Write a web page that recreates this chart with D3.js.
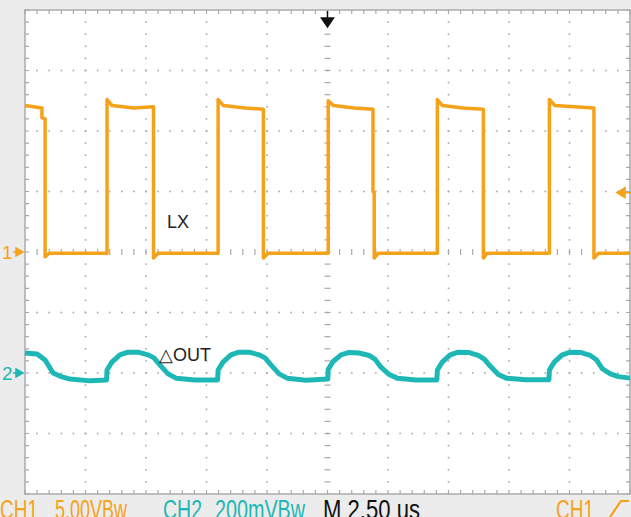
<!DOCTYPE html>
<html>
<head>
<meta charset="utf-8">
<script src="https://cdn.jsdelivr.net/npm/d3@7"></script>
<style>
  body { margin: 0; background: #ececec; }
  text { font-family: "Liberation Sans", Arial, sans-serif; }
</style>
</head>
<body>
<div id="scope"></div>
<script>
// Scope settings
var timePerDivUs = 2.5;
var ch1VoltsPerDiv = 5;
var ch2mVPerDiv = 200;
var ch1GroundDiv = 0;
var ch2GroundDiv = -2;
var triggerLevelV = 4.9;
var triggerTimeUs = 0;

// CH1 (LX switch node), [time us from trigger, volts]
var lxTrace = [
    [-12.50, 12.1], [-11.80, 11.9], [-11.80, 11.1], [-11.67, 11.0], [-11.67, -0.4], [-11.50, -0.1],
    [-9.11, -0.1], [-9.11, 12.6], [-8.90, 12.1], [-8.00, 11.9], [-7.19, 12.0], [-7.19, -0.5], [-7.00, -0.1],
    [-4.52, -0.1], [-4.52, 12.6], [-4.30, 12.1], [-3.40, 11.9], [-2.65, 11.8], [-2.65, -0.5], [-2.45, -0.1],
    [0.03, -0.1], [0.03, 12.5], [0.25, 12.1], [1.10, 11.9], [1.88, 11.8], [1.88, 5.0], [1.93, 4.9], [1.93, -0.5], [2.10, -0.1],
    [4.54, -0.1], [4.54, 12.6], [4.75, 12.1], [5.60, 11.9], [6.44, 11.8], [6.44, -0.5], [6.60, -0.1],
    [9.17, -0.1], [9.17, 12.6], [9.40, 12.1], [10.20, 12.0], [11.01, 11.9], [11.01, -0.5], [11.20, -0.1],
    [12.50, -0.1]
];

// CH2 (output ripple), [time us from trigger, millivolts]
var outTrace = [
    [-12.50, 66], [-12.00, 63], [-11.67, 43], [-11.34, 0], [-10.97, -13], [-10.64, -20], [-9.81, -26], [-9.13, -23],
    [-9.11, 10], [-8.91, 36], [-8.58, 60], [-8.25, 69], [-7.83, 69], [-7.42, 60], [-7.17, 50], [-6.92, 26], [-6.59, -3], [-6.26, -17], [-5.48, -23], [-4.54, -23],
    [-4.52, 10], [-4.32, 36], [-3.99, 60], [-3.66, 69], [-3.24, 69], [-2.83, 60], [-2.58, 50], [-2.33, 26], [-2.00, -3], [-1.67, -17], [-0.89, -24], [0.01, -20],
    [0.03, 12], [0.23, 38], [0.56, 60], [0.89, 68], [1.31, 66], [1.72, 58], [1.97, 45], [2.20, 20], [2.55, -5], [2.88, -17], [3.66, -23], [4.52, -23],
    [4.54, 10], [4.74, 36], [5.07, 60], [5.40, 69], [5.82, 68], [6.23, 58], [6.48, 46], [6.73, 22], [7.06, -5], [7.39, -17], [8.17, -22], [9.15, -22],
    [9.17, 10], [9.37, 36], [9.70, 60], [10.03, 69], [10.45, 68], [10.86, 58], [11.11, 44], [11.36, 14], [11.69, -3], [12.02, -12], [12.50, -17]
];

var traceLabels = ["LX", "\u25B3OUT"];
var statusTexts = ["CH1", "5.00VBw", "CH2", "200mVBw", "M 2.50 us", "CH1"];

var orange = "#f5a21b",
    teal = "#1db7b5";

var width = 631,
    height = 517;

var svg = d3.select("#scope").append("svg")
    .attr("width", width)
    .attr("height", height);

svg.append("rect")
    .attr("width", width)
    .attr("height", height)
    .attr("fill", "#ececec");

// 10 x 8 divisions
var x = d3.scaleLinear()
    .domain([-5 * timePerDivUs, 5 * timePerDivUs])
    .range([25, 630]);

var yDiv = d3.scaleLinear()
    .domain([-4, 4])
    .range([494, 10]);

function y1(v) { return yDiv(ch1GroundDiv + v / ch1VoltsPerDiv); }
function y2(mv) { return yDiv(ch2GroundDiv + mv / ch2mVPerDiv); }

svg.append("rect")
    .attr("x", x.range()[0])
    .attr("y", yDiv.range()[1])
    .attr("width", x.range()[1] - x.range()[0])
    .attr("height", yDiv.range()[0] - yDiv.range()[1])
    .attr("fill", "white")
    .attr("stroke", "#bdbdbd")
    .attr("stroke-width", 2);

var grid = svg.append("g").attr("fill", "#a9a9a9").attr("stroke", "#a9a9a9");

var minorT = d3.range(-12.5, 12.5001, timePerDivUs / 5),
    minorD = d3.range(-4, 4.0001, 0.2),
    majorT = d3.range(-10, 10.001, timePerDivUs).filter(function(t) { return Math.abs(t) > 0.01; }),
    majorD = [-3, -2, -1, 1, 2, 3];

// dotted division lines
majorT.forEach(function(t) {
    grid.selectAll(null)
        .data(minorD.slice(1, -1))
        .enter().append("rect")
        .attr("x", x(t) - 0.8).attr("y", function(d) { return yDiv(d) - 0.8; })
        .attr("width", 1.6).attr("height", 1.6).attr("stroke", "none");
});
majorD.forEach(function(dv) {
    grid.selectAll(null)
        .data(minorT.slice(1, -1))
        .enter().append("rect")
        .attr("x", function(t) { return x(t) - 0.8; }).attr("y", yDiv(dv) - 0.8)
        .attr("width", 1.6).attr("height", 1.6).attr("stroke", "none");
});

// center lines with small dashes
grid.selectAll(null)
    .data(minorD.slice(1, -1))
    .enter().append("line")
    .attr("x1", x(0) - 3).attr("x2", x(0) + 3)
    .attr("y1", function(d) { return yDiv(d); }).attr("y2", function(d) { return yDiv(d); })
    .attr("stroke-width", 1.2);
grid.selectAll(null)
    .data(minorT.slice(1, -1))
    .enter().append("line")
    .attr("x1", function(t) { return x(t); }).attr("x2", function(t) { return x(t); })
    .attr("y1", yDiv(0) - 3).attr("y2", yDiv(0) + 3)
    .attr("stroke-width", 1.2);

// border ticks
grid.selectAll(null)
    .data(minorT)
    .enter().append("path")
    .attr("d", function(t) {
        return "M" + x(t) + "," + yDiv(4) + "v4M" + x(t) + "," + yDiv(-4) + "v-4";
    })
    .attr("fill", "none").attr("stroke-width", 1.2);
grid.selectAll(null)
    .data(minorD)
    .enter().append("path")
    .attr("d", function(d) {
        return "M" + x.range()[0] + "," + yDiv(d) + "h4M" + x.range()[1] + "," + yDiv(d) + "h-4";
    })
    .attr("fill", "none").attr("stroke-width", 1.2);

// Traces
var lxLine = d3.line()
    .x(function(d) { return x(d[0]); })
    .y(function(d) { return y1(d[1]); });

var outLine = d3.line()
    .x(function(d) { return x(d[0]); })
    .y(function(d) { return y2(d[1]); });

svg.append("path")
    .datum(lxTrace)
    .attr("d", lxLine)
    .attr("fill", "none")
    .attr("stroke", orange)
    .attr("stroke-width", 3.5)
    .attr("stroke-linejoin", "round");

svg.append("path")
    .datum(outTrace)
    .attr("d", outLine)
    .attr("fill", "none")
    .attr("stroke", teal)
    .attr("stroke-width", 5)
    .attr("stroke-linejoin", "round");

// Trace labels
svg.append("text")
    .attr("x", 167).attr("y", 228)
    .attr("font-size", 18).attr("fill", "#222")
    .text(traceLabels[0]);
svg.append("text")
    .attr("x", 159).attr("y", 361)
    .attr("font-size", 18).attr("fill", "#222")
    .text(traceLabels[1]);

// Ground markers on the left
function groundMarker(label, yPos, color) {
    svg.append("text")
        .attr("x", 2).attr("y", yPos + 7)
        .attr("font-size", 19).attr("fill", color)
        .text(label);
    svg.append("path")
        .attr("d", "M13," + yPos + "h5M16," + (yPos - 4) + "L23," + yPos + "L16," + (yPos + 4) + "Z")
        .attr("fill", color).attr("stroke", color).attr("stroke-width", 1.5);
}
groundMarker("1", y1(0), orange);
groundMarker("2", y2(0), teal);

// Trigger level marker (right) and trigger position marker (top)
var ty = y1(triggerLevelV);
svg.append("path")
    .attr("d", "M631," + ty + "h-6M625," + (ty - 5) + "L617," + ty + "L625," + (ty + 5) + "Z")
    .attr("fill", orange).attr("stroke", orange).attr("stroke-width", 1.5);

var tx = x(triggerTimeUs);
svg.append("path")
    .attr("d", "M" + tx + ",11v8M" + (tx - 6) + ",18L" + tx + ",27L" + (tx + 6) + ",18Z")
    .attr("fill", "#111").attr("stroke", "#111").attr("stroke-width", 1.5);

// Status line at the bottom (cut off by the frame, as on the scope capture)
var statusPos = [[0, 38], [55, 72], [163, 39], [215, 90], [323, 97], [556, 38]];
var statusColor = [orange, orange, teal, teal, "#111", orange];
svg.selectAll(".status")
    .data(statusTexts)
    .enter().append("text")
    .attr("class", "status")
    .attr("x", function(d, i) { return statusPos[i][0]; })
    .attr("y", 519)
    .attr("font-size", 27)
    .attr("textLength", function(d, i) { return statusPos[i][1]; })
    .attr("lengthAdjust", "spacingAndGlyphs")
    .attr("fill", function(d, i) { return statusColor[i]; })
    .text(function(d) { return d; });

// rising edge trigger symbol
svg.append("path")
    .attr("d", "M610,517L621,501H629")
    .attr("fill", "none").attr("stroke", orange).attr("stroke-width", 2.2);
</script>
</body>
</html>
